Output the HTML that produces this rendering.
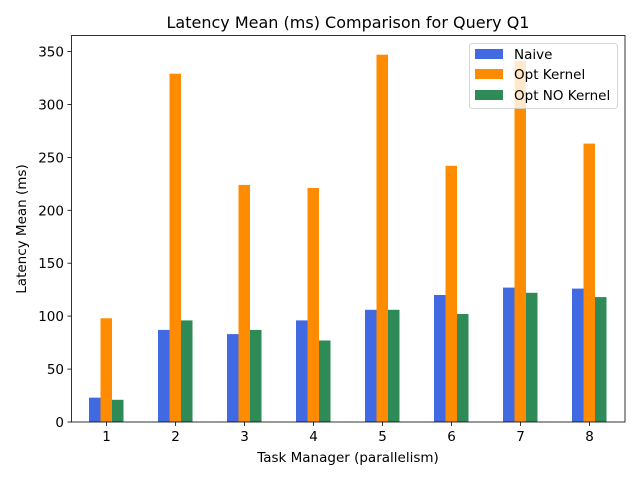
<!DOCTYPE html>
<html><head><meta charset="utf-8"><style>body{margin:0;background:#fff}svg{display:block}text{font-family:"DejaVu Sans","Liberation Sans",sans-serif;fill:#000}</style></head>
<body>
<svg width="640" height="480" viewBox="0 0 640 480" xmlns="http://www.w3.org/2000/svg">
<rect width="640" height="480" fill="#fff"/>
<g fill="#4169e1">
<rect x="89" y="397.65" width="11.5" height="24.35"/>
<rect x="158" y="329.9" width="11.5" height="92.1"/>
<rect x="227" y="334.1" width="11.5" height="87.9"/>
<rect x="296" y="320.4" width="11.5" height="101.6"/>
<rect x="365" y="309.8" width="11.5" height="112.2"/>
<rect x="434" y="295" width="11.5" height="127"/>
<rect x="503" y="287.6" width="11.5" height="134.4"/>
<rect x="572" y="288.6" width="11.5" height="133.4"/>
</g>
<g fill="#ff8c00">
<rect x="100.5" y="318.3" width="11.5" height="103.7"/>
<rect x="169.5" y="73.7" width="11.5" height="348.3"/>
<rect x="238.5" y="184.9" width="11.5" height="237.1"/>
<rect x="307.5" y="188" width="11.5" height="234"/>
<rect x="376.5" y="54.7" width="11.5" height="367.3"/>
<rect x="445.5" y="165.8" width="11.5" height="256.2"/>
<rect x="514.5" y="61" width="11.5" height="361"/>
<rect x="583.5" y="143.6" width="11.5" height="278.4"/>
</g>
<g fill="#2e8b57">
<rect x="112" y="399.8" width="11.5" height="22.2"/>
<rect x="181" y="320.4" width="11.5" height="101.6"/>
<rect x="250" y="329.9" width="11.5" height="92.1"/>
<rect x="319" y="340.5" width="11.5" height="81.5"/>
<rect x="388" y="309.8" width="11.5" height="112.2"/>
<rect x="457" y="314" width="11.5" height="108"/>
<rect x="526" y="292.8" width="11.5" height="129.2"/>
<rect x="595" y="297.1" width="11.5" height="124.9"/>
</g>
<g stroke="#000" stroke-width="0.8">
<line x1="106.5" y1="422" x2="106.5" y2="426"/><line x1="175.5" y1="422" x2="175.5" y2="426"/>
<line x1="244.5" y1="422" x2="244.5" y2="426"/><line x1="313.5" y1="422" x2="313.5" y2="426"/>
<line x1="382.5" y1="422" x2="382.5" y2="426"/><line x1="451.5" y1="422" x2="451.5" y2="426"/>
<line x1="520.5" y1="422" x2="520.5" y2="426"/><line x1="589.5" y1="422" x2="589.5" y2="426"/>
<line x1="67.5" y1="422" x2="71.5" y2="422"/><line x1="67.5" y1="369.1" x2="71.5" y2="369.1"/>
<line x1="67.5" y1="316.1" x2="71.5" y2="316.1"/><line x1="67.5" y1="263.2" x2="71.5" y2="263.2"/>
<line x1="67.5" y1="210.3" x2="71.5" y2="210.3"/><line x1="67.5" y1="157.4" x2="71.5" y2="157.4"/>
<line x1="67.5" y1="104.4" x2="71.5" y2="104.4"/><line x1="67.5" y1="51.5" x2="71.5" y2="51.5"/>
</g>
<g font-size="13.5" text-anchor="middle">
<text x="106.5" y="441">1</text><text x="175.5" y="441">2</text><text x="244.5" y="441">3</text><text x="313.5" y="441">4</text>
<text x="382.5" y="441">5</text><text x="451.5" y="441">6</text><text x="520.5" y="441">7</text><text x="589.5" y="441">8</text>
</g>
<g font-size="13.5" text-anchor="end">
<text x="64" y="427">0</text><text x="64" y="374.1">50</text><text x="64" y="321.1">100</text><text x="64" y="268.2">150</text>
<text x="64" y="215.3">200</text><text x="64" y="162.4">250</text><text x="64" y="109.4">300</text><text x="64" y="56.5">350</text>
</g>
<rect x="71.5" y="35.5" width="553.5" height="386.5" fill="none" stroke="#000" stroke-width="0.8"/>
<text x="348" y="28" font-size="16" text-anchor="middle">Latency Mean (ms) Comparison for Query Q1</text>
<text x="348" y="462" font-size="13.5" text-anchor="middle">Task Manager (parallelism)</text>
<text transform="translate(26,229) rotate(-90)" font-size="13.5" text-anchor="middle">Latency Mean (ms)</text>
<rect x="469.5" y="43.5" width="148" height="65" rx="3" fill="#fff" fill-opacity="0.8" stroke="#ccc" stroke-width="0.8"/>
<rect x="475" y="49" width="28" height="10" fill="#4169e1"/>
<rect x="475" y="69" width="28" height="10" fill="#ff8c00"/>
<rect x="475" y="90" width="28" height="10" fill="#2e8b57"/>
<text x="514" y="59" font-size="13.5">Naive</text>
<text x="514" y="79" font-size="13.5">Opt Kernel</text>
<text x="514" y="100" font-size="13.5">Opt NO Kernel</text>
</svg>
</body></html>
